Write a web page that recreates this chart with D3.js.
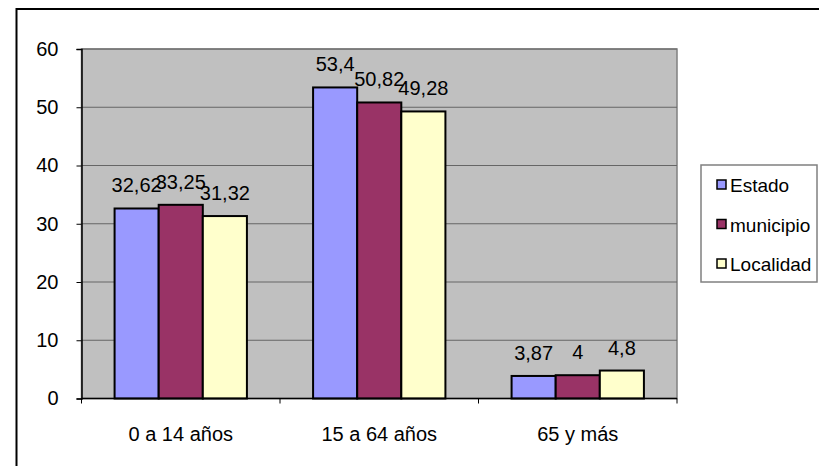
<!DOCTYPE html>
<html>
<head>
<meta charset="utf-8">
<script src="https://cdn.jsdelivr.net/npm/d3@7"></script>
<style>
  html, body { margin: 0; padding: 0; background: #fff; }
  svg { display: block; font-family: "Liberation Sans", Arial, sans-serif; }
</style>
</head>
<body>
<svg id="chart" width="819" height="466"></svg>
<script>
// Population share by age group (%)
const categories = ["0 a 14 años", "15 a 64 años", "65 y más"];
const seriesNames = ["Estado", "municipio", "Localidad"];
const estado = [32.62, 53.4, 3.87];
const municipio = [33.25, 50.82, 4];
const localidad = [31.32, 49.28, 4.8];
const yTicks = [0, 10, 20, 30, 40, 50, 60];
const colors = ["#9999FF", "#993366", "#FFFFCC"];

const seriesValues = [estado, municipio, localidad];

const svg = d3.select("#chart");
const plot = { left: 81.5, right: 677, top: 49, bottom: 398.5 };

// Outer chart frame (runs off the right and bottom edges)
svg.append("rect")
  .attr("x", 16.5).attr("y", 9)
  .attr("width", 830).attr("height", 480)
  .attr("fill", "#fff").attr("stroke", "#000").attr("stroke-width", 2);

const x0 = d3.scaleBand().domain(categories).range([plot.left, plot.right]).paddingInner(0).paddingOuter(0);
const x1 = d3.scaleBand().domain(seriesNames).range([0, x0.bandwidth()]).paddingInner(0).paddingOuter(0.75);
const y = d3.scaleLinear().domain([0, 60]).range([plot.bottom, plot.top]);

// Plot background
svg.append("rect")
  .attr("x", plot.left).attr("y", plot.top)
  .attr("width", plot.right - plot.left).attr("height", plot.bottom - plot.top)
  .attr("fill", "#C0C0C0").attr("stroke", "#808080").attr("stroke-width", 1.5);

// Gridlines
svg.append("g").selectAll("line").data(yTicks.filter(t => t > 0)).join("line")
  .attr("x1", plot.left).attr("x2", plot.right)
  .attr("y1", d => y(d)).attr("y2", d => y(d))
  .attr("stroke", "#666").attr("stroke-width", 1);

// Bars
const groups = svg.append("g").selectAll("g").data(categories).join("g")
  .attr("transform", d => `translate(${x0(d)},0)`);

groups.each(function(cat, ci) {
  const g = d3.select(this);
  const rows = seriesNames.map((s, si) => ({ s, si, v: seriesValues[si][ci] }));
  g.selectAll("rect").data(rows).join("rect")
    .attr("x", d => x1(d.s))
    .attr("y", d => y(d.v))
    .attr("width", x1.bandwidth())
    .attr("height", d => y(0) - y(d.v))
    .attr("fill", d => colors[d.si])
    .attr("stroke", "#000").attr("stroke-width", 2);
  g.selectAll("text").data(rows).join("text")
    .attr("x", d => x1(d.s) + x1.bandwidth() / 2)
    .attr("y", d => y(d.v) - 16)
    .attr("text-anchor", "middle")
    .attr("font-size", 20)
    .attr("fill", "#000")
    .text(d => String(d.v).replace(".", ","));
});

// Y axis
const yAxis = d3.axisLeft(y).tickValues(yTicks).tickSize(5).tickPadding(18).tickFormat(d => d);
const gy = svg.append("g").attr("transform", `translate(${plot.left},0)`).call(yAxis);
gy.select(".domain").attr("stroke", "#000").attr("stroke-width", 1.5);
gy.selectAll(".tick line").attr("stroke", "#000");
gy.selectAll(".tick text").attr("font-size", 20).attr("fill", "#000").attr("font-family", "Liberation Sans, Arial, sans-serif");

// X axis: tick marks at category boundaries
const gx = svg.append("g");
gx.append("line")
  .attr("x1", plot.left).attr("x2", plot.right)
  .attr("y1", plot.bottom).attr("y2", plot.bottom)
  .attr("stroke", "#000").attr("stroke-width", 1.5);
const bounds = categories.map(c => x0(c)).concat([x0(categories[categories.length - 1]) + x0.bandwidth()]);
gx.selectAll("line.tk").data(bounds).join("line").attr("class", "tk")
  .attr("x1", d => d).attr("x2", d => d)
  .attr("y1", plot.bottom).attr("y2", plot.bottom + 5)
  .attr("stroke", "#000");
gx.selectAll("text").data(categories).join("text")
  .attr("x", d => x0(d) + x0.bandwidth() / 2)
  .attr("y", 441)
  .attr("text-anchor", "middle")
  .attr("font-size", 20)
  .attr("fill", "#000")
  .text(d => d);

// Legend
const legend = svg.append("g");
legend.append("rect")
  .attr("x", 701).attr("y", 165).attr("width", 116).attr("height", 117)
  .attr("fill", "#fff").attr("stroke", "#808080").attr("stroke-width", 1.5);
const items = legend.selectAll("g").data(seriesNames).join("g")
  .attr("transform", (d, i) => `translate(0,${185 + i * 39.5})`);
items.append("rect")
  .attr("x", 717).attr("y", -5).attr("width", 9).attr("height", 9)
  .attr("fill", (d, i) => colors[i]).attr("stroke", "#000").attr("stroke-width", 1.5);
items.append("text")
  .attr("x", 730).attr("y", 7)
  .attr("font-size", 19)
  .attr("fill", "#000")
  .text(d => d);
</script>
</body>
</html>
